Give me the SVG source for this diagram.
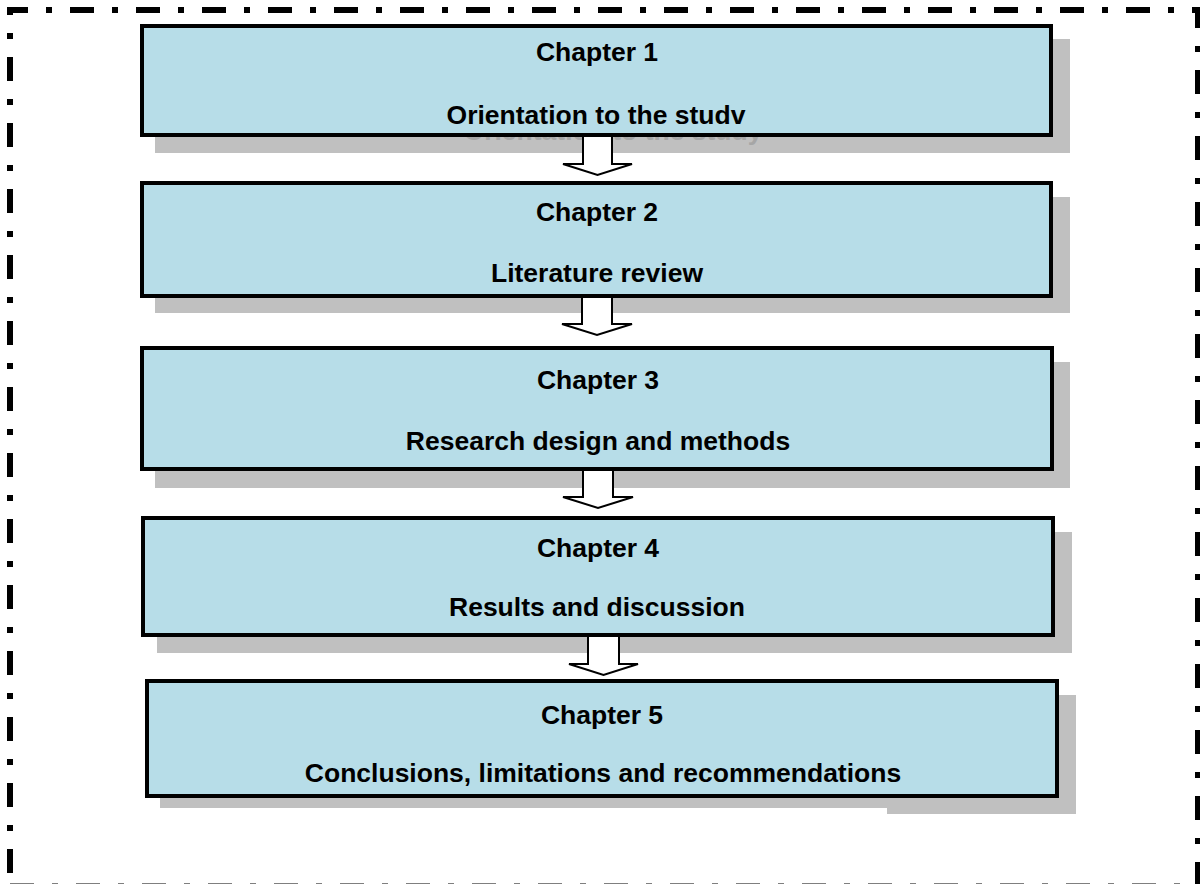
<svg xmlns="http://www.w3.org/2000/svg" width="1200" height="884" viewBox="0 0 1200 884">
<style>
.frame{fill:none;stroke:#000;stroke-width:6;stroke-dasharray:24 18 6 18}
.shadow{fill:#c0c0c0}
.box{fill:#b7dde8;stroke:#000;stroke-width:4}
.arrow{fill:#fff;stroke:#000;stroke-width:2;stroke-linejoin:miter}
.t{font-family:"Liberation Sans",Arial,sans-serif;font-weight:bold;font-size:26.5px;fill:#000;text-anchor:middle}
.ghost{font-family:"Liberation Sans",Arial,sans-serif;font-weight:bold;font-size:26.5px;fill:#a6a6a6;text-anchor:middle}
</style>
<rect width="1200" height="884" fill="#fff"/>
<g id="frame">
<line class="frame" x1="7" y1="10" x2="1200" y2="10" stroke-dashoffset="3"/>
<line class="frame" x1="10" y1="7" x2="10" y2="884" stroke-dashoffset="16"/>
<line class="frame" x1="1198" y1="7" x2="1198" y2="884" stroke-dashoffset="3"/>
<line class="frame" x1="10" y1="886.5" x2="1200" y2="886.5" stroke-dashoffset="0"/>
</g>
<g id="shadows">
<rect class="shadow" x="155" y="39" width="915" height="114"/>
<rect class="shadow" x="155" y="197" width="915" height="116"/>
<rect class="shadow" x="155" y="362" width="915" height="126"/>
<rect class="shadow" x="157" y="532" width="915" height="121"/>
<rect class="shadow" x="160" y="695" width="916" height="113"/>
<rect class="shadow" x="887" y="700" width="189" height="114"/>
<text class="ghost" x="613" y="140">Orientation to the study</text>
</g>
<g id="connectors">
<polygon class="arrow" points="583,133 612,133 612,164 632,164 597.5,175 563,164 583,164"/>
<polygon class="arrow" points="582,294 612,294 612,324 632,324 597,335 562,324 582,324"/>
<polygon class="arrow" points="583,467 613,467 613,497 633,497 598,508 563,497 583,497"/>
<polygon class="arrow" points="588,633 619,633 619,664 638,664 603.5,675 569,664 588,664"/>
</g>
<g id="chapter1">
<rect class="box" x="142" y="26" width="909" height="109"/>
<text class="t" x="597" y="61">Chapter 1</text>
<text class="t" x="596" y="124">Orientation to the studv</text>
</g>
<g id="chapter2">
<rect class="box" x="142" y="183" width="909" height="113"/>
<text class="t" x="597" y="221">Chapter 2</text>
<text class="t" x="597" y="282">Literature review</text>
</g>
<g id="chapter3">
<rect class="box" x="142" y="348" width="910" height="121"/>
<text class="t" x="598" y="389">Chapter 3</text>
<text class="t" x="598" y="450">Research design and methods</text>
</g>
<g id="chapter4">
<rect class="box" x="143" y="518" width="910" height="117"/>
<text class="t" x="598" y="557">Chapter 4</text>
<text class="t" x="597" y="616">Results and discussion</text>
</g>
<g id="chapter5">
<rect class="box" x="147" y="681" width="910" height="115"/>
<text class="t" x="602" y="724">Chapter 5</text>
<text class="t" x="603" y="782">Conclusions, limitations and recommendations</text>
</g>
</svg>
